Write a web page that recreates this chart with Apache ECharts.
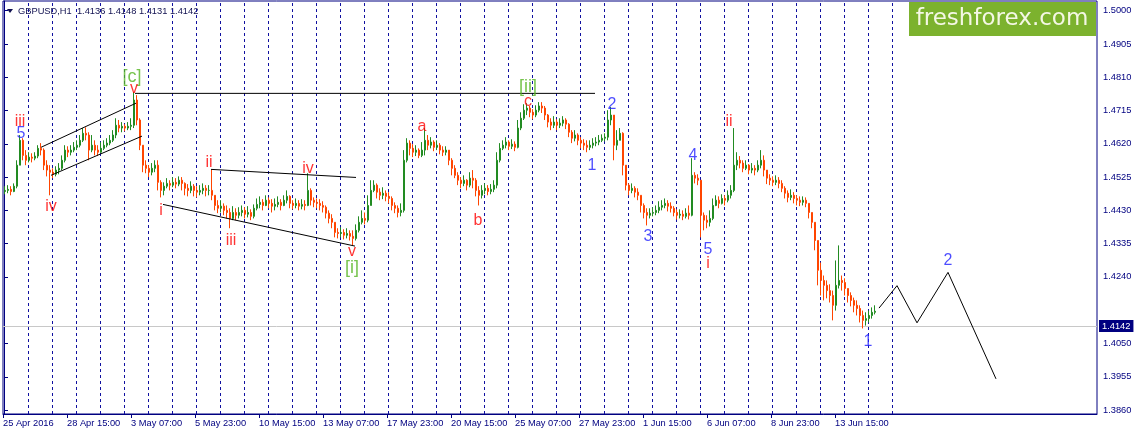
<!DOCTYPE html>
<html>
<head>
<meta charset="utf-8">
<script src="https://cdn.jsdelivr.net/npm/echarts@6/dist/echarts.min.js"></script>
<style>html,body{margin:0;padding:0;background:#fff;}#chart{width:1137px;height:433px;}</style>
</head>
<body>
<div id="chart"></div>
<script>
// ---------- data ----------
const symbolName = 'GBPUSD,H1';
const lastBarOHLC = [1.4136, 1.4148, 1.4131, 1.4142];
const lastPrice = 1.4142;

const tradingDays = ['26 Apr','27 Apr','28 Apr','29 Apr','2 May','3 May','4 May','5 May','6 May','9 May','10 May','11 May','12 May','13 May','16 May','17 May','18 May','19 May','20 May','23 May','24 May','25 May','26 May','27 May','30 May','31 May','1 Jun','2 Jun','3 Jun','6 Jun','7 Jun','8 Jun','9 Jun','10 Jun','13 Jun','14 Jun','15 Jun','16 Jun'];
const timeTickLabels = ['25 Apr 2016','28 Apr 15:00','3 May 07:00','5 May 23:00','10 May 15:00','13 May 07:00','17 May 23:00','20 May 15:00','25 May 07:00','27 May 23:00','1 Jun 15:00','6 Jun 07:00','8 Jun 23:00','13 Jun 15:00'];
const priceTicks = [1.5000,1.4905,1.4810,1.4715,1.4620,1.4525,1.4430,1.4335,1.4240,1.4050,1.3955,1.3860];

// 3-hour bars (open = previous close)
const firstOpen = 1.4484;
const closes = [
1.4487,1.4490,1.4484,1.4499,1.4559,1.4630,1.4587,1.4573,1.4582,1.4579,
1.4585,1.4607,1.4602,1.4559,1.4545,1.4539,1.4533,1.4545,1.4550,1.4573,
1.4602,1.4596,1.4602,1.4610,1.4616,1.4630,1.4650,1.4645,1.4602,1.4616,
1.4602,1.4596,1.4607,1.4616,1.4622,1.4630,1.4645,1.4673,1.4665,1.4670,
1.4665,1.4670,1.4673,1.4745,1.4688,1.4616,1.4559,1.4550,1.4539,1.4550,
1.4559,1.4510,1.4487,1.4499,1.4507,1.4502,1.4510,1.4505,1.4516,1.4507,
1.4493,1.4487,1.4499,1.4487,1.4482,1.4487,1.4493,1.4487,1.4487,1.4473,
1.4444,1.4436,1.4442,1.4430,1.4424,1.4407,1.4424,1.4416,1.4424,1.4430,
1.4419,1.4424,1.4413,1.4436,1.4447,1.4453,1.4444,1.4459,1.4450,1.4442,
1.4447,1.4453,1.4444,1.4459,1.4470,1.4450,1.4444,1.4450,1.4442,1.4447,
1.4444,1.4487,1.4459,1.4453,1.4450,1.4444,1.4439,1.4422,1.4407,1.4396,
1.4367,1.4364,1.4367,1.4359,1.4364,1.4356,1.4350,1.4373,1.4396,1.4407,
1.4402,1.4444,1.4487,1.4502,1.4482,1.4473,1.4479,1.4470,1.4464,1.4444,
1.4436,1.4424,1.4430,1.4573,1.4622,1.4607,1.4596,1.4602,1.4587,1.4602,
1.4630,1.4616,1.4625,1.4610,1.4616,1.4602,1.4596,1.4602,1.4573,1.4550,
1.4530,1.4516,1.4507,1.4516,1.4502,1.4522,1.4516,1.4487,1.4473,1.4487,
1.4493,1.4484,1.4490,1.4502,1.4573,1.4607,1.4616,1.4625,1.4613,1.4619,
1.4610,1.4665,1.4693,1.4716,1.4722,1.4710,1.4702,1.4716,1.4728,1.4722,
1.4702,1.4682,1.4673,1.4682,1.4673,1.4679,1.4688,1.4676,1.4653,1.4636,
1.4645,1.4630,1.4622,1.4616,1.4610,1.4616,1.4622,1.4625,1.4630,1.4636,
1.4639,1.4688,1.4702,1.4616,1.4630,1.4650,1.4559,1.4502,1.4487,1.4493,
1.4482,1.4473,1.4444,1.4424,1.4416,1.4422,1.4424,1.4430,1.4439,1.4444,
1.4450,1.4442,1.4436,1.4424,1.4416,1.4419,1.4413,1.4422,1.4416,1.4530,
1.4522,1.4516,1.4416,1.4402,1.4396,1.4407,1.4444,1.4459,1.4450,1.4464,
1.4459,1.4473,1.4487,1.4559,1.4573,1.4565,1.4550,1.4559,1.4545,1.4550,
1.4545,1.4559,1.4573,1.4545,1.4522,1.4516,1.4510,1.4516,1.4507,1.4493,
1.4479,1.4467,1.4473,1.4464,1.4459,1.4453,1.4459,1.4450,1.4424,1.4396,
1.4344,1.4259,1.4230,1.4216,1.4201,1.4187,1.4159,1.4216,1.4230,1.4224,
1.4207,1.4187,1.4173,1.4159,1.4150,1.4130,1.4116,1.4121,1.4130,1.4139,
1.4142
];
const highs = [
1.4499,1.4502,1.4499,1.4507,1.4573,1.4645,1.4636,1.4602,1.4596,1.4593,
1.4596,1.4616,1.4622,1.4607,1.4573,1.4559,1.4550,1.4556,1.4565,1.4587,
1.4616,1.4613,1.4616,1.4625,1.4630,1.4645,1.4665,1.4667,1.4653,1.4645,
1.4630,1.4616,1.4625,1.4630,1.4636,1.4645,1.4659,1.4693,1.4688,1.4682,
1.4676,1.4682,1.4693,1.4768,1.4759,1.4693,1.4616,1.4573,1.4559,1.4565,
1.4573,1.4573,1.4516,1.4510,1.4522,1.4516,1.4525,1.4522,1.4527,1.4525,
1.4510,1.4505,1.4513,1.4505,1.4499,1.4502,1.4507,1.4502,1.4502,1.4547,
1.4473,1.4459,1.4459,1.4450,1.4444,1.4436,1.4442,1.4436,1.4439,1.4444,
1.4439,1.4442,1.4433,1.4447,1.4464,1.4470,1.4462,1.4473,1.4467,1.4462,
1.4464,1.4470,1.4462,1.4473,1.4487,1.4473,1.4459,1.4464,1.4459,1.4462,
1.4459,1.4536,1.4493,1.4467,1.4464,1.4462,1.4456,1.4444,1.4430,1.4419,
1.4396,1.4379,1.4382,1.4376,1.4379,1.4373,1.4373,1.4390,1.4413,1.4430,
1.4424,1.4473,1.4516,1.4516,1.4507,1.4493,1.4496,1.4487,1.4482,1.4470,
1.4453,1.4444,1.4450,1.4602,1.4636,1.4630,1.4619,1.4616,1.4607,1.4625,
1.4665,1.4645,1.4639,1.4630,1.4630,1.4622,1.4613,1.4613,1.4602,1.4579,
1.4559,1.4539,1.4525,1.4530,1.4519,1.4539,1.4545,1.4522,1.4499,1.4502,
1.4507,1.4502,1.4505,1.4516,1.4596,1.4622,1.4630,1.4639,1.4630,1.4633,
1.4627,1.4688,1.4710,1.4733,1.4736,1.4728,1.4719,1.4730,1.4739,1.4739,
1.4728,1.4705,1.4693,1.4699,1.4690,1.4693,1.4699,1.4693,1.4679,1.4659,
1.4659,1.4650,1.4639,1.4633,1.4630,1.4630,1.4636,1.4639,1.4645,1.4647,
1.4650,1.4716,1.4725,1.4702,1.4659,1.4665,1.4653,1.4559,1.4507,1.4507,
1.4499,1.4493,1.4473,1.4450,1.4436,1.4436,1.4439,1.4444,1.4456,1.4459,
1.4464,1.4459,1.4453,1.4442,1.4433,1.4433,1.4430,1.4436,1.4444,1.4579,
1.4539,1.4533,1.4487,1.4424,1.4416,1.4430,1.4464,1.4473,1.4470,1.4476,
1.4473,1.4487,1.4502,1.4665,1.4596,1.4585,1.4573,1.4573,1.4562,1.4565,
1.4559,1.4573,1.4602,1.4587,1.4545,1.4533,1.4527,1.4530,1.4525,1.4516,
1.4499,1.4487,1.4490,1.4482,1.4473,1.4470,1.4470,1.4467,1.4450,1.4424,
1.4387,1.4330,1.4281,1.4244,1.4230,1.4219,1.4201,1.4287,1.4330,1.4244,
1.4236,1.4207,1.4196,1.4181,1.4173,1.4159,1.4144,1.4139,1.4144,1.4153,
1.4159
];
const lows = [
1.4476,1.4479,1.4473,1.4482,1.4493,1.4559,1.4573,1.4559,1.4567,1.4567,
1.4573,1.4579,1.4587,1.4545,1.4527,1.4473,1.4522,1.4527,1.4533,1.4545,
1.4567,1.4582,1.4587,1.4596,1.4602,1.4610,1.4625,1.4630,1.4573,1.4596,
1.4587,1.4585,1.4593,1.4602,1.4610,1.4616,1.4625,1.4636,1.4653,1.4653,
1.4656,1.4659,1.4659,1.4665,1.4673,1.4602,1.4539,1.4536,1.4525,1.4530,
1.4539,1.4487,1.4467,1.4473,1.4493,1.4487,1.4496,1.4493,1.4499,1.4487,
1.4473,1.4470,1.4479,1.4470,1.4467,1.4473,1.4476,1.4470,1.4473,1.4459,
1.4430,1.4422,1.4424,1.4416,1.4407,1.4379,1.4402,1.4402,1.4407,1.4413,
1.4407,1.4410,1.4402,1.4407,1.4430,1.4436,1.4430,1.4442,1.4436,1.4424,
1.4430,1.4439,1.4430,1.4442,1.4450,1.4436,1.4433,1.4436,1.4430,1.4433,
1.4430,1.4442,1.4444,1.4439,1.4436,1.4430,1.4424,1.4407,1.4393,1.4379,
1.4353,1.4350,1.4353,1.4347,1.4350,1.4344,1.4330,1.4344,1.4367,1.4390,
1.4390,1.4396,1.4444,1.4482,1.4464,1.4459,1.4462,1.4456,1.4450,1.4430,
1.4422,1.4410,1.4413,1.4424,1.4567,1.4587,1.4582,1.4585,1.4579,1.4582,
1.4587,1.4602,1.4607,1.4599,1.4602,1.4590,1.4585,1.4587,1.4559,1.4530,
1.4522,1.4502,1.4493,1.4499,1.4487,1.4496,1.4493,1.4470,1.4444,1.4464,
1.4476,1.4473,1.4476,1.4482,1.4493,1.4567,1.4602,1.4607,1.4602,1.4605,
1.4599,1.4607,1.4659,1.4688,1.4702,1.4696,1.4690,1.4696,1.4710,1.4708,
1.4688,1.4667,1.4659,1.4665,1.4659,1.4665,1.4670,1.4662,1.4639,1.4622,
1.4627,1.4616,1.4607,1.4602,1.4596,1.4602,1.4607,1.4613,1.4616,1.4625,
1.4627,1.4630,1.4673,1.4573,1.4602,1.4630,1.4530,1.4487,1.4473,1.4479,
1.4467,1.4459,1.4424,1.4407,1.4387,1.4407,1.4413,1.4416,1.4422,1.4430,
1.4436,1.4427,1.4424,1.4413,1.4404,1.4407,1.4402,1.4407,1.4404,1.4413,
1.4507,1.4502,1.4353,1.4373,1.4379,1.4384,1.4402,1.4442,1.4436,1.4447,
1.4444,1.4453,1.4464,1.4482,1.4545,1.4550,1.4539,1.4545,1.4533,1.4536,
1.4530,1.4539,1.4550,1.4527,1.4505,1.4502,1.4499,1.4502,1.4493,1.4482,
1.4464,1.4453,1.4459,1.4450,1.4444,1.4442,1.4444,1.4439,1.4407,1.4379,
1.4316,1.4216,1.4187,1.4173,1.4179,1.4167,1.4116,1.4144,1.4207,1.4201,
1.4187,1.4167,1.4156,1.4139,1.4130,1.4110,1.4093,1.4101,1.4110,1.4121,
1.4133
];

// drawn lines: [hour, price]
const resistanceLine = [[131, 1.4764], [591, 1.4764]];
const channelUpper = [[37, 1.4610], [132, 1.4736]];
const channelLower = [[47, 1.4530], [138, 1.4642]];
const triangleUpper = [[207, 1.4547], [352, 1.4524]];
const triangleLower = [[159, 1.4447], [351, 1.4328]];
const forecastPath = [[875, 1.4151], [893, 1.4215], [913, 1.4109], [944, 1.4253], [992, 1.3949]];

// wave labels: [text, hour, price, kind]
const waveLabels = [
  ['iii', 16, 1.4683, 'r'], ['5', 17, 1.4650, 'b'], ['iv', 47, 1.4440, 'r'],
  ['[c]', 128, 1.4810, 'g'], ['v', 130, 1.4778, 'r'],
  ['i', 157, 1.4430, 'r'], ['ii', 205, 1.4565, 'r'], ['iii', 227, 1.4344, 'r'],
  ['iv', 304, 1.4549, 'r'], ['v', 348, 1.4311, 'r'], ['[i]', 348, 1.4264, 'g'],
  ['a', 418, 1.4670, 'r'], ['b', 474, 1.4402, 'r'],
  ['[ii]', 524, 1.4783, 'g'], ['c', 524, 1.4740, 'r'],
  ['1', 588, 1.4559, 'b'], ['2', 608, 1.4733, 'b'], ['3', 644, 1.4354, 'b'],
  ['4', 689, 1.4585, 'b'], ['5', 704, 1.4318, 'b'], ['i', 704, 1.4277, 'r'],
  ['ii', 725, 1.4683, 'r'], ['1', 864, 1.4054, 'b'], ['2', 944, 1.4287, 'b']
];

// ---------- build ----------
const HOURS_PER_BAR = 3;
const X_MIN = -1, X_MAX = 1093;
const Y_MIN = 1.38487, Y_MAX = 1.50277;
const NAVY = '#000080';
const FONT = "'Liberation Sans', Arial, sans-serif";

function dayStartHour(day) { return tradingDays.indexOf(day) * 24; }
function tickHour(label) {
  const m = label.match(/^(\d+ \w+) (\d\d):00$/);
  return m ? dayStartHour(m[1]) + Number(m[2]) : X_MIN;
}
const tickHours = timeTickLabels.map(tickHour);
const labelByHour = {};
tickHours.forEach((h, i) => { labelByHour[h] = timeTickLabels[i]; });
const separatorHours = tradingDays.slice(1).map(dayStartHour);

const candleData = closes.map((c, i) => {
  const o = i === 0 ? firstOpen : closes[i - 1];
  const h = Math.max(highs[i], o, c);
  const l = Math.min(lows[i], o, c);
  return [i * HOURS_PER_BAR + 1, o, c, l, h];
});

const labelStyles = {
  r: { color: '#ff0000', fontSize: 16 },
  b: { color: '#1f1fff', fontSize: 16 },
  g: { color: '#55b522', fontSize: 18 }
};

function lineSeries(data) {
  return {
    type: 'line', data: data, symbol: 'none', silent: true, animation: false, z: 3,
    lineStyle: { color: '#000', width: 1 }
  };
}

const chart = echarts.init(document.getElementById('chart'), null, { renderer: 'canvas' });
chart.setOption({
  animation: false,
  backgroundColor: '#ffffff',
  grid: { left: 3, right: 40, top: 1, bottom: 19, show: true, borderColor: NAVY, borderWidth: 1, backgroundColor: 'transparent' },
  xAxis: {
    type: 'value', min: X_MIN, max: X_MAX,
    axisLine: { show: true, lineStyle: { color: NAVY } },
    axisTick: { show: true, customValues: tickHours, length: 4, lineStyle: { color: NAVY } },
    axisLabel: {
      customValues: tickHours, showMinLabel: true, showMaxLabel: true,
      formatter: v => labelByHour[v] || '', align: 'left', margin: 5,
      color: NAVY, fontSize: 9.3, fontFamily: FONT
    },
    splitLine: { show: false }
  },
  yAxis: {
    type: 'value', position: 'right', min: Y_MIN, max: Y_MAX, scale: true,
    axisLine: { show: true, lineStyle: { color: NAVY } },
    axisTick: { show: true, customValues: priceTicks, length: 4, lineStyle: { color: NAVY } },
    axisLabel: {
      customValues: priceTicks, formatter: v => v.toFixed(4), margin: 6,
      color: NAVY, fontSize: 9.3, fontFamily: FONT
    },
    splitLine: { show: false }
  },
  series: [
    {
      type: 'candlestick', data: candleData, encode: { x: 0, y: [1, 2, 3, 4] },
      barWidth: 2, z: 2, silent: true,
      itemStyle: { color: '#228b22', color0: '#ff4500', borderColor: '#228b22', borderColor0: '#ff4500', borderWidth: 1 },
      markLine: {
        silent: true, symbol: ['none', 'none'], z: 1, animation: false,
        data: separatorHours.map(h => ({
          xAxis: h, label: { show: false },
          lineStyle: { color: '#1010a0', type: [3, 3], width: 1 }
        })).concat([{
          yAxis: lastPrice,
          lineStyle: { color: '#c8c8c8', type: 'solid', width: 1 },
          label: {
            show: true, position: 'end', distance: 2, formatter: lastPrice.toFixed(4),
            color: '#ffffff', backgroundColor: NAVY, padding: [2, 3, 1, 3],
            fontSize: 9.3, fontFamily: FONT
          }
        }])
      }
    },
    lineSeries(resistanceLine),
    lineSeries(channelUpper),
    lineSeries(channelLower),
    lineSeries(triangleUpper),
    lineSeries(triangleLower),
    lineSeries(forecastPath),
    {
      type: 'scatter', symbolSize: 1, silent: true, z: 4,
      itemStyle: { color: 'transparent' },
      data: waveLabels.map(w => ({
        value: [w[1], w[2]], name: w[0],
        label: {
          show: true, position: 'inside', formatter: w[0],
          color: labelStyles[w[3]].color, fontSize: labelStyles[w[3]].fontSize,
          fontFamily: FONT
        }
      }))
    }
  ],
  graphic: [
    { type: 'polygon', shape: { points: [[7, 9], [13, 9], [10, 13]] }, style: { fill: '#101050' }, silent: true },
    { type: 'text', x: 18, y: 11, silent: true,
      style: { text: symbolName + '  ' + lastBarOHLC.map(v => v.toFixed(4)).join(' '),
               fill: '#101050', font: '9.3px ' + FONT, textVerticalAlign: 'middle' } },
    { type: 'rect', shape: { x: 909, y: 2, width: 187, height: 34 }, style: { fill: '#7cb22e' }, silent: true },
    { type: 'text', x: 1002, y: 19, silent: true,
      style: { text: 'freshforex.com', fill: '#f4f7e4', font: "23px 'DejaVu Sans'", textAlign: 'center', textVerticalAlign: 'middle' } }
  ]
});
</script>
</body>
</html>
